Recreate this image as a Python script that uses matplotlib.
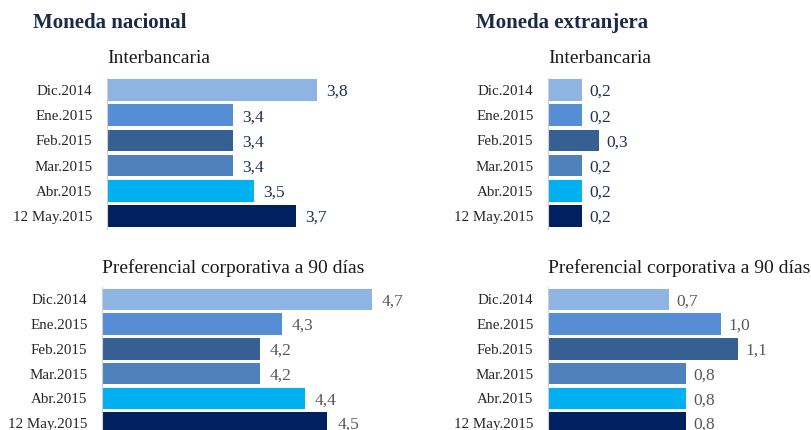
import matplotlib.pyplot as plt

meses = ['Dic.2014', 'Ene.2015', 'Feb.2015', 'Mar.2015', 'Abr.2015', '12 May.2015']
mn_interbancaria = [3.8, 3.4, 3.4, 3.4, 3.5, 3.7]
mn_preferencial = [4.7, 4.3, 4.2, 4.2, 4.4, 4.5]
me_interbancaria = [0.2, 0.2, 0.3, 0.2, 0.2, 0.2]
me_preferencial = [0.7, 1.0, 1.1, 0.8, 0.8, 0.8]

colores = ['#8eb4e3', '#558ed5', '#376092', '#4f81bd', '#00b0f0', '#002060']

plt.rcParams['font.family'] = ['Liberation Serif', 'DejaVu Serif']

W, H = 812, 430
fig = plt.figure(figsize=(W / 100, H / 100), dpi=100)


def panel(x0, y0, x1, y1, valores, xlim, color_txt, subtitulo):
    # box given in pixel coords (top-left origin)
    ax = fig.add_axes([x0 / W, 1 - y1 / H, (x1 - x0) / W, (y1 - y0) / H])
    pos = range(len(meses))
    ax.barh(pos, valores, color=colores, height=0.86)
    ax.set_xlim(*xlim)
    ax.set_ylim(len(meses) - 0.5, -0.5)
    ax.set_yticks(list(pos))
    ax.set_yticklabels(meses, fontsize=10.8, color='#262626')
    ax.tick_params(axis='y', length=0, pad=10.5)
    ax.set_xticks([])
    for s in ['top', 'right', 'bottom']:
        ax.spines[s].set_visible(False)
    ax.spines['left'].set_color('#d0d0d0')
    for i, v in enumerate(valores):
        ax.text(v + (xlim[1] - xlim[0]) * 0.03, i + 0.08, f'{v:.1f}'.replace('.', ','),
                va='center', ha='left', fontsize=12.5, color=color_txt, clip_on=False)
    ax.text(0, 1.0 + 19 / (y1 - y0), subtitulo, transform=ax.transAxes,
            fontsize=14, color='#1a1a1a', ha='left', va='center')
    return ax


navy = '#1f3050'
gris = '#595959'
panel(107, 77.5, 401, 228.5, mn_interbancaria, (2.8, 4.2), navy, 'Interbancaria')
panel(102, 287, 439.5, 435.5, mn_preferencial, (3.5, 5.0), gris, 'Preferencial corporativa a 90 días')
panel(548, 77.5, 803, 228.5, me_interbancaria, (0, 1.5), navy, 'Interbancaria')
panel(548, 287, 790, 435.5, me_preferencial, (0, 1.4), gris, 'Preferencial corporativa a 90 días')

fig.text(33 / W, 1 - 23 / H, 'Moneda nacional', fontsize=15, fontweight='bold',
         color='#1a2b47', ha='left', va='center')
fig.text(476 / W, 1 - 23 / H, 'Moneda extranjera', fontsize=15, fontweight='bold',
         color='#1a2b47', ha='left', va='center')

fig.savefig('out.png', dpi=100)
